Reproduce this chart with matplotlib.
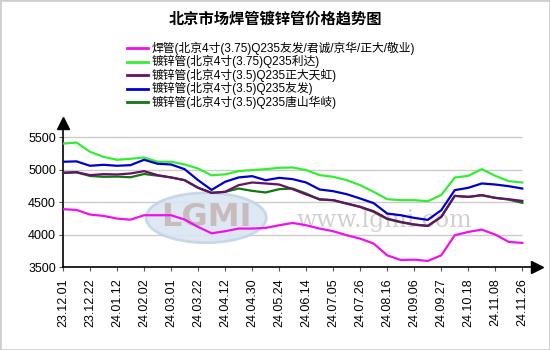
import numpy as np
import matplotlib
matplotlib.use("Agg")
import matplotlib.pyplot as plt
from matplotlib.lines import Line2D
from matplotlib.patches import Ellipse, Rectangle

plt.rcParams['font.family'] = ['Liberation Sans', 'Noto Sans CJK SC', 'DejaVu Sans']

# x轴标签 (每两个数据点一个标签)
date_labels = ["23.12.01", "23.12.22", "24.01.12", "24.02.02", "24.03.01", "24.03.22",
               "24.04.12", "24.04.30", "24.05.24", "24.06.14", "24.07.05", "24.07.26",
               "24.08.16", "24.09.06", "24.09.27", "24.10.18", "24.11.08", "24.11.26"]

series_names = ["焊管(北京4寸(3.75)Q235友发/君诚/京华/正大/敬业)",
                "镀锌管(北京4寸(3.75)Q235利达)",
                "镀锌管(北京4寸(3.5)Q235正大天虹)",
                "镀锌管(北京4寸(3.5)Q235友发)",
                "镀锌管(北京4寸(3.5)Q235唐山华岐)"]
series_colors = ["#ee11ee", "#33ee33", "#661166", "#0000cc", "#117711"]

weld_pipe = [4392, 4381, 4309, 4289, 4247, 4230, 4299, 4299, 4299, 4232,
             4119, 4020, 4052, 4093, 4093, 4103, 4144, 4180, 4144, 4093,
             4052, 3990, 3938, 3861, 3680, 3608, 3613, 3593, 3680, 3990,
             4041, 4077, 4000, 3887, 3872]
galv_lida = [5405, 5420, 5278, 5200, 5155, 5170, 5190, 5124, 5124, 5083,
             5020, 4915, 4930, 4980, 4995, 5010, 5031, 5036, 4995, 4918,
             4892, 4840, 4763, 4660, 4547, 4531, 4531, 4515, 4610, 4880,
             4907, 5010, 4907, 4825, 4804]
galv_zhengda = [4954, 4964, 4918, 4933, 4928, 4943, 4979, 4918, 4882, 4840,
                4722, 4644, 4660, 4763, 4804, 4789, 4773, 4701, 4619, 4546,
                4531, 4479, 4428, 4361, 4247, 4196, 4155, 4134, 4273, 4598,
                4582, 4608, 4567, 4546, 4520]
galv_youfa = [5124, 5130, 5062, 5077, 5062, 5072, 5155, 5093, 5082, 5010,
              4840, 4690, 4815, 4882, 4902, 4840, 4876, 4856, 4804, 4696,
              4670, 4624, 4557, 4485, 4325, 4299, 4258, 4227, 4376, 4686,
              4722, 4789, 4773, 4747, 4711]
galv_huaqi = [4954, 4960, 4905, 4892, 4895, 4885, 4935, 4910, 4882, 4840,
              4722, 4644, 4660, 4711, 4675, 4650, 4701, 4711, 4634, 4540,
              4531, 4479, 4428, 4350, 4240, 4190, 4155, 4134, 4273, 4598,
              4582, 4608, 4567, 4540, 4490]

y_ticks = [3500, 4000, 4500, 5000, 5500]

fig = plt.figure(figsize=(5.5, 3.5), dpi=100)
W, H = 550.0, 350.0
fig.patches.append(Rectangle((0, 0), 1, 1, transform=fig.transFigure, fill=False,
                             edgecolor="#cfcfcf", linewidth=2))

ax = fig.add_axes([63 / W, (H - 267) / H, (537 - 63) / W, (267 - 123) / H])
n = len(weld_pipe)
x = np.arange(n)

ax.set_xlim(0, (n - 1) + (537 - 522.3) / 13.5)
ax.set_ylim(3500, 3500 + (267 - 123) / 32.4 * 500)

# 网格线
ax.hlines(y_ticks[1:], 0, n - 1, colors="#cccccc", linewidth=1, zorder=1)

# 水印
ax.add_patch(Ellipse((10.6, 4260), 8.9, 770, facecolor="#dae6f2", edgecolor="#c3d5e8",
                     linewidth=2, alpha=0.9, zorder=1.2))
ax.text(10.6, 4270, "LGMI", fontsize=23, fontweight="bold", color="#c4b4b4",
        ha="center", va="center", family="DejaVu Sans", alpha=0.85, zorder=1.3)
ax.text(23.8, 4210, "www.lgmi.com", fontsize=17, color="#d0d0d0",
        ha="center", va="center", family="DejaVu Serif", zorder=1.3)

all_series = [weld_pipe, galv_lida, galv_zhengda, galv_youfa, galv_huaqi]
for idx in [0, 1, 4, 3, 2]:
    ax.plot(x, all_series[idx], color=series_colors[idx], linewidth=1.6, zorder=3)

for s in ["top", "right"]:
    ax.spines[s].set_visible(False)
for s in ["left", "bottom"]:
    ax.spines[s].set_linewidth(1.2)
    ax.spines[s].set_color("black")

ax.set_yticks(y_ticks)
ax.set_yticklabels([str(v) for v in y_ticks], fontsize=9)
ax.set_xticks(x[::2])
ax.set_xticklabels(date_labels, rotation=90, fontsize=9)
ax.tick_params(axis="both", length=3, width=0.8, color="#555555", pad=2)
ax.tick_params(axis="x", pad=5)

# 坐标轴箭头
ax.plot([0], [1], marker="^", markersize=8, color="black", transform=ax.transAxes,
        clip_on=False, zorder=5)
ax.plot([1], [0], marker=">", markersize=8, color="black", transform=ax.transAxes,
        clip_on=False, zorder=5)

# 标题
fig.text(275 / W, 1 - 19 / H, "北京市场焊管镀锌管价格趋势图", ha="center", va="center",
         fontsize=11, fontweight="bold", family=["Noto Sans CJK SC", "DejaVu Sans"])

# 图例
for i, name in enumerate(series_names):
    yy = 1 - (48 + 13.5 * i) / H
    fig.add_artist(Line2D([127 / W, 148 / W], [yy, yy], color=series_colors[i], linewidth=2))
    fig.text(152 / W, yy, name, ha="left", va="center", fontsize=8.5,
             family=["Liberation Sans", "Noto Sans CJK SC"])

fig.savefig("out.png", dpi=100)
